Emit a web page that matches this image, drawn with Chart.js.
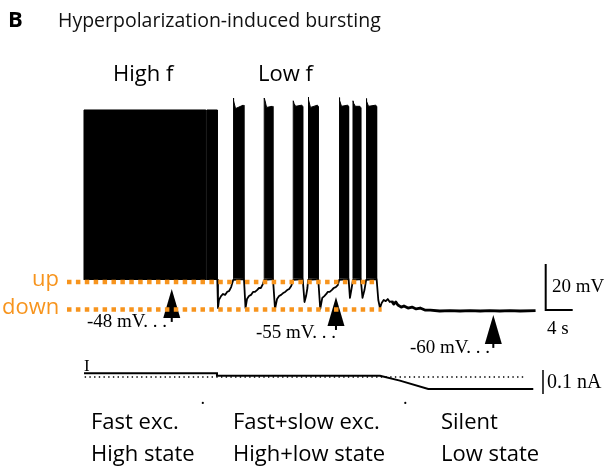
<!DOCTYPE html>
<html><head><meta charset="utf-8">
<script src="https://cdn.jsdelivr.net/npm/chart.js@4/dist/chart.umd.min.js"></script>
<style>html,body{margin:0;padding:0;background:#fff;}canvas{display:block;}</style>
</head><body>
<canvas id="c" width="608" height="466"></canvas>
<script>
// ---------- DATA (time in s, voltage in mV, current in nA) ----------
// dense spiking episodes (envelopes of the spike trains)
const burstStart = [0, 18.2, 22.1, 26.7, 31.0, 33.2, 37.8, 39.85, 41.8];
const burstEnd   = [18.05, 19.75, 23.7, 28.0, 32.4, 34.7, 39.2, 41.0, 43.35];
const burstPeak  = [27.4, 27.4, 32.6, 32.6, 31.4, 33.0, 32.8, 31.4, 32.4];
const burstDip   = [27.4, 27.4, 28.0, 28.5, 29.0, 28.5, 29.0, 29.0, 29.0];
const burstLast  = [27.4, 27.4, 29.5, 29.0, 29.5, 29.5, 29.5, 29.0, 29.5];
const burstBase  = [-46.5, -46.5, -46.0, -46.0, -46.0, -46.0, -46.0, -46.0, -46.0];

// membrane potential between bursts and in the silent phase
const vmTime = [19.75,19.85,20.0,20.3,20.6,20.9,21.2,21.5,21.8,22.1,
  23.7,23.93,24.15,24.44,24.74,25.04,25.33,25.63,25.93,26.2,26.5,26.7,
  28.0,28.3,28.6,28.9,29.2,29.5,29.8,30.1,30.4,30.7,31.0,
  32.4,32.67,32.9,33.1,33.2,
  34.7,35.0,35.3,35.6,35.9,36.1,36.4,36.7,37.0,37.3,37.6,37.8,
  39.2,39.4,39.6,39.85,
  41.0,41.26,41.55,41.8,
  43.35,43.6,43.85,44.1,44.4,44.7,45.0,45.3,45.6,45.9,46.2,46.5,47.0,47.4,48.0,48.6,49.2,49.8,50.5,51.3,52.7,54.2,55.7,57.2,58.7,60.1,61.6,63.1,64.6,66.9];
const vmValue = [-46.5,-58.7,-55.2,-53.5,-52.6,-53.0,-51.7,-51.3,-49.6,-46.5,
  -46.1,-58.7,-54.8,-53.5,-53.0,-51.7,-51.7,-50.9,-50.0,-50.0,-48.3,-46.5,
  -46.1,-59.1,-54.8,-53.5,-53.0,-52.2,-51.7,-50.9,-50.4,-49.1,-46.5,
  -46.1,-56.1,-53.5,-50.0,-46.5,
  -46.1,-59.1,-54.3,-53.5,-52.6,-51.7,-51.7,-50.9,-50.0,-49.6,-48.7,-46.5,
  -46.1,-54.3,-50.9,-46.5,
  -46.1,-54.3,-50.9,-46.5,
  -46.1,-55.2,-58.7,-56.5,-55.2,-55.7,-54.8,-56.1,-55.7,-57.0,-56.1,-57.4,-58.3,-57.8,-58.7,-58.3,-59.1,-58.7,-59.6,-59.6,-60.0,-59.8,-60.0,-59.8,-60.0,-59.8,-60.0,-59.8,-60.0,-59.8];

// injected current
const curTime  = [0, 19.7, 19.7, 43.85, 46.8, 51.0, 66.56];
const curValue = [0.0154, 0.0154, 0.005, 0.005, -0.015, -0.05, -0.05];
const curZeroSpan = [0.1, 65.5];
const stateMarkTime = [17.6, 47.6];
const stateMarkValue = -0.108;

// up / down state levels (mV) and their extent (s)
const upLevel = -47.4, downLevel = -59.4;
const upSpan = [-2.52, 43.26], downSpan = [-2.52, 44.1];

// arrows marking the three resting levels
const arrowTime = [13.0, 37.33, 60.64];
const arrowTip  = [-50.4, -53.9, -61.7];

// scale bars
const barTime = 68.4, barSec = 4, barMvBottom = -59.6, barMv = 20;
const barITime = 68.0, barITop = 0.029, barINa = 0.1;

// ---------- STYLE ----------
const ORANGE = '#F7941D';
const SANS = '"Open Sans", "Noto Sans", sans-serif';
const SERIF = '"Liberation Serif", "DejaVu Serif", serif';

const datasets = [];
// orange dotted state lines (on top)
datasets.push({type:'line', data:[{x:upSpan[0],y:upLevel},{x:upSpan[1],y:upLevel}], borderColor:ORANGE, borderWidth:4.5, borderDash:[4.5,4.4], pointRadius:0, yAxisID:'y'});
datasets.push({type:'line', data:[{x:downSpan[0],y:downLevel},{x:downSpan[1],y:downLevel}], borderColor:ORANGE, borderWidth:4.5, borderDash:[4.5,4.4], pointRadius:0, yAxisID:'y'});
// membrane potential (thicker, noisy-looking trace in the silent phase)
datasets.push({type:'line', data:vmTime.map((t,i)=>({x:t,y:vmValue[i]})), borderColor:'#000', borderWidth:1.8, pointRadius:0, tension:0, yAxisID:'y', borderJoinStyle:'round',
  segment:{borderWidth: c => (c.p0.parsed.x >= 45.5 ? 2.8 : 1.8)}});
// bursts
burstStart.forEach((s,i)=>{
  const e = burstEnd[i], b = burstBase[i];
  const pts = (burstPeak[i]===burstDip[i]) ?
    [{x:s,y:b},{x:s,y:burstPeak[i]},{x:e,y:burstLast[i]},{x:e,y:b}] :
    [{x:s,y:b},{x:s,y:burstPeak[i]},{x:s+0.12,y:burstPeak[i]-1.2},{x:s+0.35,y:burstDip[i]},{x:e-0.12,y:burstLast[i]},{x:e,y:burstLast[i]-0.6},{x:e,y:b}];
  datasets.push({type:'line', data:pts, borderColor:'#000', backgroundColor:'#000', borderWidth:1, pointRadius:0, tension:0, fill:{value:b}, yAxisID:'y'});
});
// current
datasets.push({type:'line', data:curTime.map((t,i)=>({x:t,y:curValue[i]})), borderColor:'#000', borderWidth:2, pointRadius:0, tension:0, yAxisID:'yI'});
datasets.push({type:'line', data:[{x:curZeroSpan[0],y:0},{x:curZeroSpan[1],y:0}], borderColor:'#000', borderWidth:1.4, borderDash:[1.4,3.3], pointRadius:0, yAxisID:'yI'});
datasets.push({type:'scatter', data:stateMarkTime.map(t=>({x:t,y:stateMarkValue})), backgroundColor:'#000', borderWidth:0, pointRadius:1.1, yAxisID:'yI'});
// scale bars
datasets.push({type:'line', data:[{x:barTime,y:barMvBottom+barMv},{x:barTime,y:barMvBottom},{x:barTime+barSec,y:barMvBottom}], borderColor:'#000', borderWidth:2, pointRadius:0, tension:0, yAxisID:'y', borderJoinStyle:'miter'});
datasets.push({type:'line', data:[{x:barITime,y:barITop},{x:barITime,y:barITop-barINa}], borderColor:'#000', borderWidth:1.5, pointRadius:0, yAxisID:'yI'});

const texts = [
  {t:'B', x:8, y:27, font:'bold 22px '+SANS, c:'#000'},
  {t:'Hyperpolarization-induced bursting', x:58, y:27, font:'19.5px '+SANS, c:'#111'},
  {t:'High f', x:113, y:81, font:'22px '+SANS, c:'#000'},
  {t:'Low f', x:258, y:81, font:'22px '+SANS, c:'#000'},
  {t:'up', x:32, y:286, font:'22px '+SANS, c:ORANGE},
  {t:'down', x:2, y:314, font:'22px '+SANS, c:ORANGE},
  {t:'-48 mV. . .', x:87, y:327, font:'19px '+SERIF, c:'#000'},
  {t:'-55 mV. . .', x:256, y:338, font:'19px '+SERIF, c:'#000'},
  {t:'-60 mV. . .', x:410, y:353, font:'19px '+SERIF, c:'#000'},
  {t:'20 mV', x:552, y:292, font:'19px '+SERIF, c:'#000'},
  {t:'4 s', x:547, y:334, font:'19px '+SERIF, c:'#000'},
  {t:'I', x:84, y:371, font:'17px '+SERIF, c:'#000'},
  {t:'0.1 nA', x:547, y:388, font:'20px '+SERIF, c:'#000'},
  {t:'Fast exc.', x:91, y:429, font:'22px '+SANS, c:'#000'},
  {t:'High state', x:91, y:461, font:'22px '+SANS, c:'#000'},
  {t:'Fast+slow exc.', x:233, y:429, font:'22px '+SANS, c:'#000'},
  {t:'High+low state', x:233, y:461, font:'22px '+SANS, c:'#000'},
  {t:'Silent', x:441, y:429, font:'22px '+SANS, c:'#000'},
  {t:'Low state', x:441, y:461, font:'22px '+SANS, c:'#000'}
];

const annot = {
  id:'annot',
  beforeDatasetsDraw(chart){
    const ctx = chart.ctx, xs = chart.scales.x, ys = chart.scales.y;
    ctx.save(); ctx.fillStyle = '#000';
    arrowTime.forEach((t,i)=>{
      const px = xs.getPixelForValue(t), py = ys.getPixelForValue(arrowTip[i]);
      ctx.beginPath();
      ctx.moveTo(px, py); ctx.lineTo(px+8.5, py+29); ctx.lineTo(px-8.5, py+29); ctx.closePath(); ctx.fill();
      ctx.fillRect(px-1, py+29, 2, 4);
    });
    ctx.restore();
  },
  afterDraw(chart){
    const ctx = chart.ctx;
    ctx.save(); ctx.textBaseline='alphabetic'; ctx.textAlign='left';
    texts.forEach(o=>{ ctx.font=o.font; ctx.fillStyle=o.c; ctx.fillText(o.t, o.x, o.y); });
    ctx.restore();
  }
};

new Chart(document.getElementById('c'), {
  data:{datasets},
  options:{
    responsive:false, animation:false, devicePixelRatio:1,
    layout:{padding:0, autoPadding:false},
    plugins:{legend:{display:false}, tooltip:{enabled:false}},
    elements:{line:{borderCapStyle:'butt'}},
    scales:{
      x:{type:'linear', display:false, min:-12.444, max:77.630},
      y:{type:'linear', display:false, min:-127.391, max:75.217},
      yI:{type:'linear', display:false, min:-0.37083, max:1.57083}
    }
  },
  plugins:[annot]
});
</script>
</body></html>
